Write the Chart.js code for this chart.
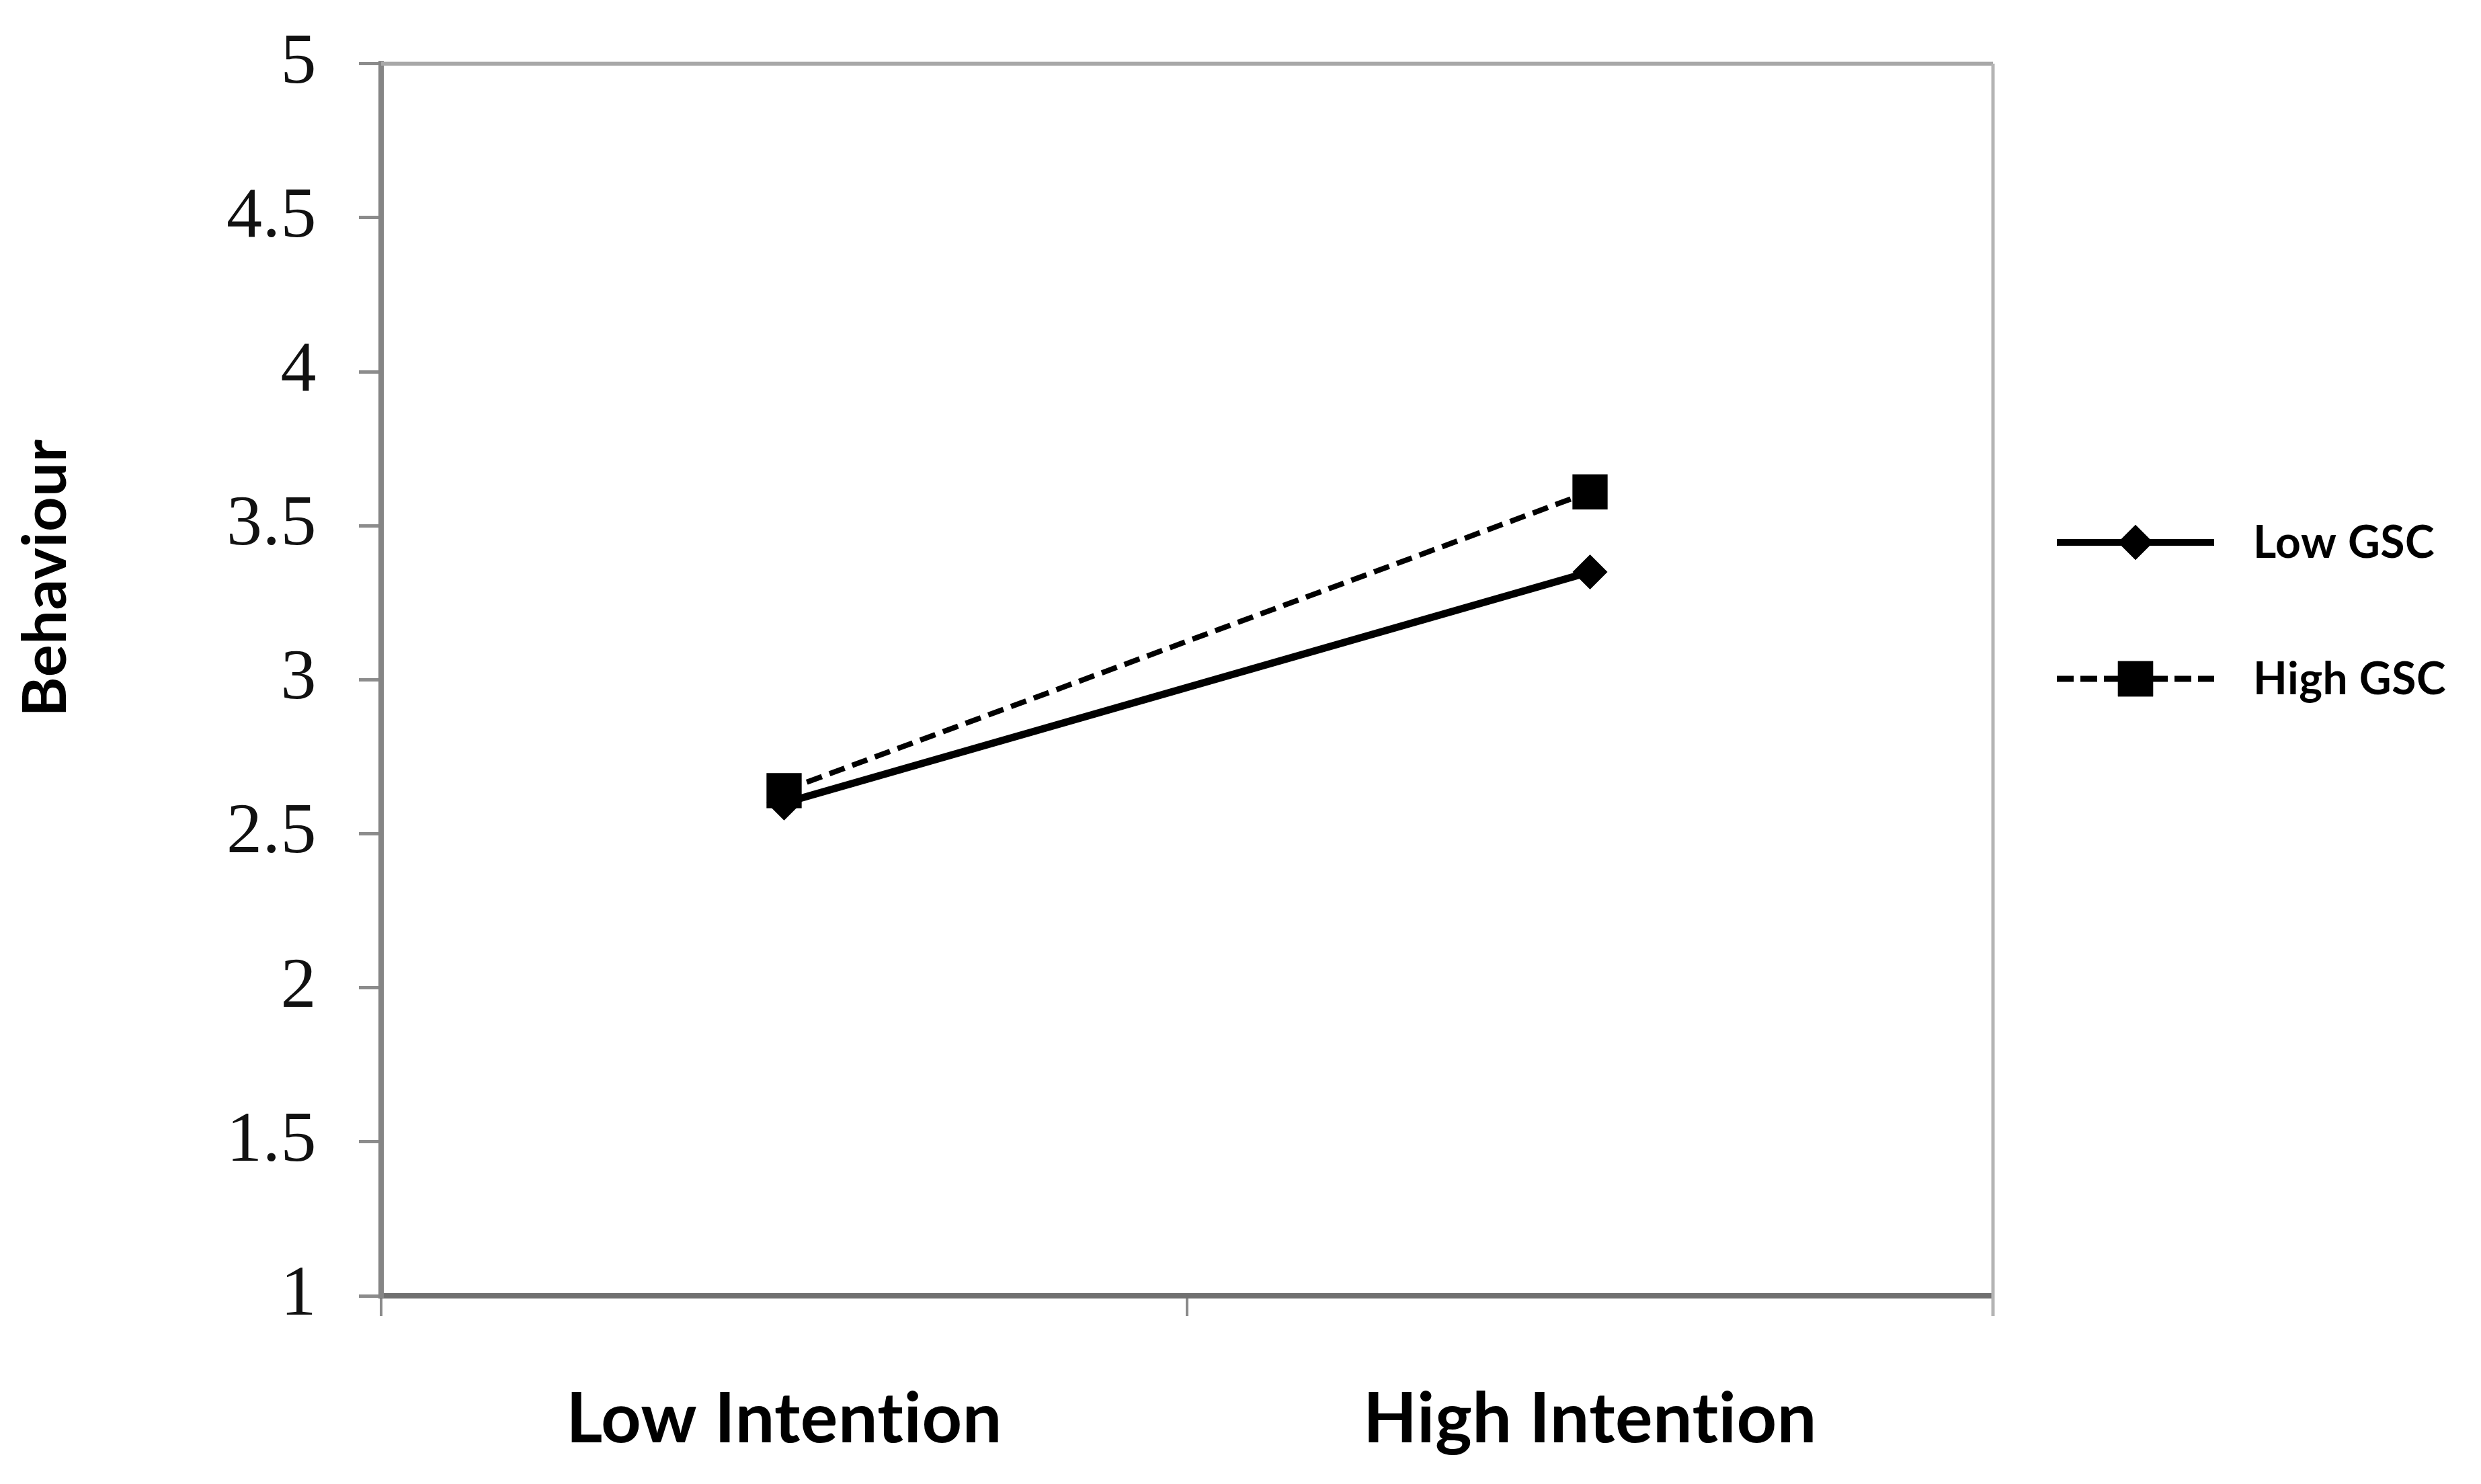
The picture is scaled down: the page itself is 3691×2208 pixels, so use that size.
<!DOCTYPE html>
<html>
<head>
<meta charset="utf-8">
<script src="https://cdn.jsdelivr.net/npm/chart.js@4/dist/chart.umd.min.js"></script>
<style>
  html, body { margin: 0; padding: 0; background: #fff; }
  #wrap { width: 3691px; height: 2208px; }
</style>
</head>
<body>
<div id="wrap"><canvas id="interaction-chart" width="3691" height="2208"></canvas></div>
<script>
// values
const categories = ['Low Intention', 'High Intention'];
const lowGSC = [2.60, 3.35];
const highGSC = [2.64, 3.61];
const yTicks = [1, 1.5, 2, 2.5, 3, 3.5, 4, 4.5, 5];
const seriesNames = ['Low GSC', 'High GSC'];
const yTitle = 'Behaviour';

const ctx = document.getElementById('interaction-chart').getContext('2d');

// frame on top and right, y title and legend drawn by hand
const extras = {
    id: 'extras',
    beforeDraw(chart) {
        // a little letter spacing keeps Lato from joining "ti"
        chart.ctx.letterSpacing = '0.5px';
    },
    beforeDatasetsDraw(chart) {
        const a = chart.chartArea;
        const c = chart.ctx;
        c.save();
        c.strokeStyle = '#a8a8a8';
        c.lineWidth = 6;
        c.beginPath();
        c.moveTo(a.left, a.top);
        c.lineTo(a.right, a.top);
        c.stroke();
        c.strokeStyle = '#b4b4b4';
        c.lineWidth = 5;
        c.beginPath();
        c.moveTo(a.right, a.top);
        c.lineTo(a.right, a.bottom + 30);
        c.stroke();
        c.restore();
    },
    afterDraw(chart) {
        const c = chart.ctx;
        c.save();
        // y axis title
        c.translate(69, 860);
        c.rotate(-Math.PI / 2);
        c.fillStyle = '#000';
        c.font = 'bold 90px Lato';
        c.textAlign = 'center';
        c.textBaseline = 'middle';
        c.fillText(yTitle, 0, 0);
        c.restore();

        // legend
        const rows = [807, 1010];
        chart.data.datasets.forEach((ds, i) => {
            const y = rows[i];
            c.save();
            c.strokeStyle = '#000';
            c.lineWidth = i === 0 ? 10 : 9;
            c.setLineDash(i === 0 ? [] : [25, 10]);
            c.beginPath();
            c.moveTo(3060, y);
            c.lineTo(3294, y);
            c.stroke();
            c.setLineDash([]);
            Chart.helpers.drawPoint(c, {
                pointStyle: ds.pointStyle,
                radius: ds.pointRadius,
                rotation: 0,
                borderWidth: 0
            }, 3177, y);
            c.fillStyle = '#000';
            c.fill();
            c.font = 'bold 66px Lato';
            c.textAlign = 'left';
            c.textBaseline = 'middle';
            c.fillText(ds.label, 3352, y + 2);
            c.restore();
        });
    }
};

const data = {
    labels: categories,
    datasets: [
        {
            label: seriesNames[0],
            data: lowGSC,
            borderColor: '#000',
            backgroundColor: '#000',
            borderWidth: 11,
            pointStyle: 'rectRot',
            pointRadius: 26,
            pointBorderWidth: 0,
            pointBackgroundColor: '#000'
        },
        {
            label: seriesNames[1],
            data: highGSC,
            borderColor: '#000',
            backgroundColor: '#000',
            borderWidth: 8,
            borderDash: [24, 12],
            pointStyle: 'rect',
            pointRadius: 37,
            pointBorderWidth: 0,
            pointBackgroundColor: '#000'
        }
    ]
};

const config = {
    type: 'line',
    data: data,
    options: {
        responsive: false,
        devicePixelRatio: 1,
        animation: false,
        layout: {
            padding: { top: 90, right: 726, bottom: 0, left: 0 }
        },
        plugins: {
            legend: { display: false },
            tooltip: { enabled: false }
        },
        scales: {
            x: {
                offset: true,
                grid: {
                    offset: true,
                    drawOnChartArea: false,
                    tickLength: 30,
                    color: '#8a8a8a',
                    lineWidth: 4
                },
                border: { color: '#707070', width: 8 },
                ticks: {
                    color: '#000',
                    padding: 92,
                    font: { family: 'Lato', weight: 'bold', size: 104 }
                },
                afterFit: (scale) => { scale.height = 280; }
            },
            y: {
                min: 1,
                max: 5,
                afterBuildTicks: (scale) => {
                    scale.ticks = yTicks.map(v => ({ value: v }));
                },
                grid: {
                    drawOnChartArea: false,
                    tickLength: 33,
                    color: '#8c8c8c',
                    lineWidth: 5
                },
                border: { color: '#858585', width: 8 },
                ticks: {
                    color: '#111',
                    padding: 63,
                    font: { family: 'Liberation Serif', size: 106, lineHeight: 0.6 },
                    callback: (value) => String(value)
                },
                afterFit: (scale) => { scale.width = 567; }
            }
        }
    },
    plugins: [extras]
};

const interactionChart = new Chart(ctx, config);
</script>
</body>
</html>
